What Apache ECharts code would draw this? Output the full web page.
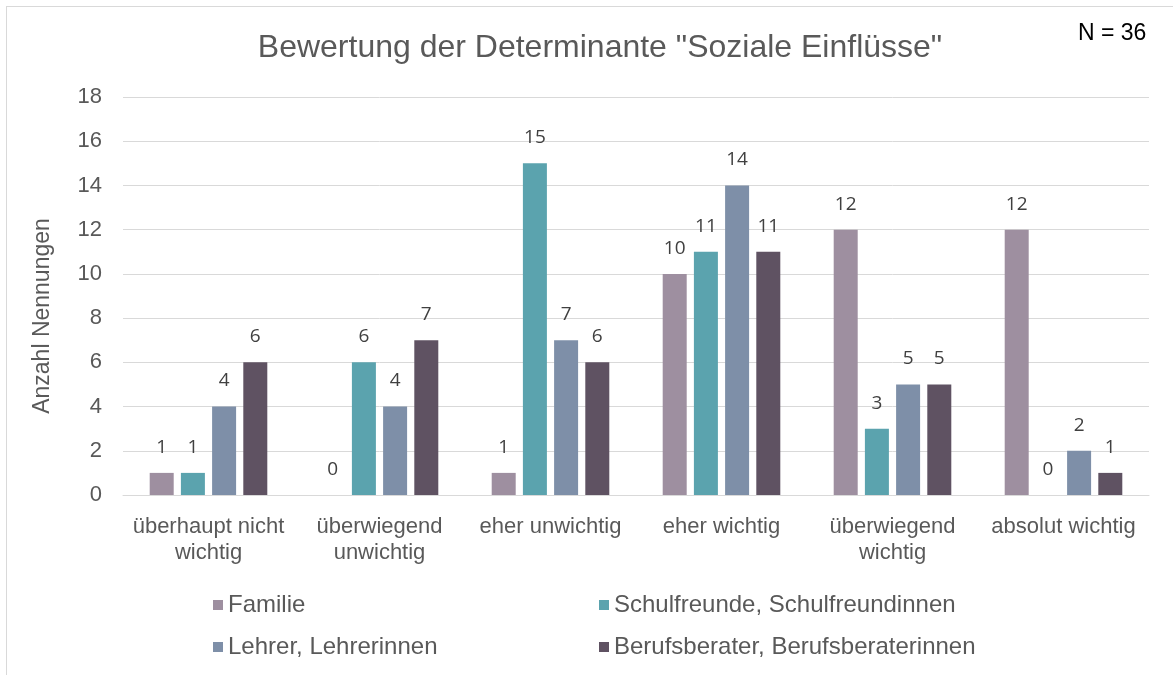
<!DOCTYPE html>
<html>
<head>
<meta charset="utf-8">
<script src="https://cdn.jsdelivr.net/npm/echarts@6/dist/echarts.min.js"></script>
<style>
  html, body { margin: 0; padding: 0; background: #fff; }
  #chart { width: 1173px; height: 675px; }
  #rahmen { position: absolute; left: 6px; top: 6px; width: 1180px; height: 700px; border: 1px solid #d9d9d9; pointer-events: none; z-index: 10; }
</style>
</head>
<body>
<div id="rahmen"></div>
<div id="chart"></div>
<script>
// Daten
const kategorien = ['überhaupt nicht\nwichtig', 'überwiegend\nunwichtig', 'eher unwichtig', 'eher wichtig', 'überwiegend\nwichtig', 'absolut wichtig'];
const reihenNamen = ['Familie', 'Schulfreunde, Schulfreundinnen', 'Lehrer, Lehrerinnen', 'Berufsberater, Berufsberaterinnen'];
const familie = [1, 0, 1, 10, 12, 12];
const schulfreunde = [1, 6, 15, 11, 3, 0];
const lehrer = [4, 4, 7, 14, 5, 2];
const berufsberater = [6, 7, 6, 11, 5, 1];
const yTicks = [0, 2, 4, 6, 8, 10, 12, 14, 16, 18];

const farben = ['#9e8fa0', '#5ba3ae', '#7e8fa8', '#5f5262'];
const schrift = '"Liberation Sans", Arial, sans-serif';
const grau = '#595959';

const werte = [familie, schulfreunde, lehrer, berufsberater];

// Legende: 2 Spalten, 2 Zeilen
const legendPos = [
  { left: 213, top: 593 },
  { left: 599, top: 593 },
  { left: 213, top: 635 },
  { left: 599, top: 635 }
];

const chart = echarts.init(document.getElementById('chart'));
chart.setOption({
  backgroundColor: '#fff',
  animation: false,
  title: [
    {
      text: 'Bewertung der Determinante "Soziale Einflüsse"',
      left: 595, top: 27, textAlign: 'center',
      textStyle: { fontFamily: schrift, fontSize: 32, fontWeight: 'normal', color: grau }
    },
    {
      text: 'N = 36',
      left: 1073, top: 17,
      textStyle: { fontFamily: schrift, fontSize: 23, fontWeight: 'normal', color: '#000' }
    }
  ],
  graphic: [{
    type: 'text',
    x: 43, y: 316,
    rotation: Math.PI / 2,
    style: {
      text: 'Anzahl Nennungen',
      fontFamily: schrift, fontSize: 23, fill: grau,
      textAlign: 'center', textVerticalAlign: 'middle'
    }
  }],
  legend: legendPos.map((p, i) => ({
    data: [reihenNamen[i]],
    left: p.left, top: p.top, padding: 0,
    itemWidth: 10, itemHeight: 10, itemGap: 0,
    icon: 'rect',
    textStyle: { fontFamily: schrift, fontSize: 24, color: grau, padding: [0, 0, 0, 0] }
  })),
  grid: { left: 123, right: 24, top: 97, bottom: 180 },
  xAxis: {
    type: 'category',
    data: kategorien,
    axisLine: { lineStyle: { color: '#d9d9d9', width: 1 } },
    axisTick: { show: false },
    axisLabel: { fontFamily: schrift, fontSize: 22, color: grau, lineHeight: 26, margin: 19, interval: 0 }
  },
  yAxis: {
    type: 'value',
    min: 0, max: 18, interval: 2,
    axisLine: { show: false },
    axisTick: { show: false },
    splitLine: { lineStyle: { color: '#d9d9d9', width: 1 } },
    axisLabel: {
      fontFamily: schrift, fontSize: 22, color: grau, margin: 21,
      formatter: v => (yTicks.includes(v) ? String(v) : '')
    }
  },
  series: werte.map((d, i) => ({
    name: reihenNamen[i],
    type: 'bar',
    data: d,
    barWidth: 24,
    barGap: '30%',
    itemStyle: { color: farben[i] },
    label: {
      show: true, position: 'top', distance: 16,
      fontFamily: '"Open Sans", sans-serif', fontSize: 19, color: '#404040'
    }
  }))
});
</script>
</body>
</html>
